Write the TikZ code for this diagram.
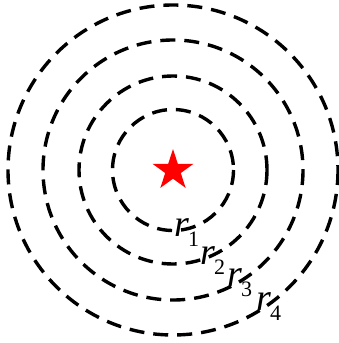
\documentclass[tikz,border=0pt]{standalone}
\usepackage{fontspec}
\setmainfont{Liberation Serif}
\usetikzlibrary{shapes.geometric}

\tikzset{
  ring/.style={line width=3.4pt, dash pattern=on 15pt off 9pt},
  rlab/.style={anchor=base west, inner sep=0pt, font=\fontsize{38}{38}\selectfont}
}
\newcommand{\rsub}[1]{\textit{r}\hspace{-1pt}\raisebox{-10pt}{\fontsize{22}{22}\selectfont #1}}

\begin{document}
\begin{tikzpicture}[x=1pt, y=-1pt]
  \useasboundingbox (0,0) rectangle (339,343);
  % 中心的星
  \node[star, star points=5, star point ratio=2.618, minimum size=43pt,
        inner sep=0pt, fill=red] (src) at (173,170.5) {};
  % 四个虚线圆
  \foreach \rad in {60.5, 94, 130, 165}
    \draw[ring] (173,170) circle (\rad);
  % 半径标注
  \node[rlab] (r1) at (174,236) {\rsub{1}};
  \node[rlab] (r2) at (200,264) {\rsub{2}};
  \node[rlab] (r3) at (227,286) {\rsub{3}};
  \node[rlab] (r4) at (256,310) {\rsub{4}};
\end{tikzpicture}
\end{document}
